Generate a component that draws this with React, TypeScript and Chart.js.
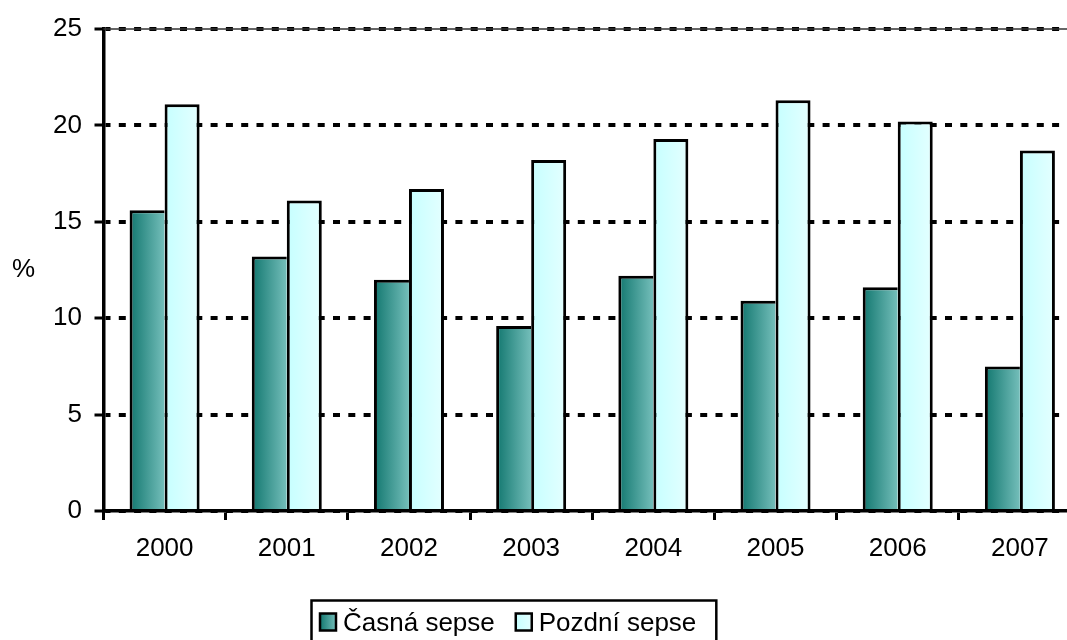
import React, { useEffect, useRef } from "react";
import { Chart, registerables } from "chart.js";

Chart.register(...registerables);

// ---------- data ----------
const years = ["2000", "2001", "2002", "2003", "2004", "2005", "2006", "2007"];
const casnaSepse = [15.6, 13.2, 12.0, 9.6, 12.2, 10.9, 11.6, 7.5];
const pozdniSepse = [21.1, 16.1, 16.7, 18.2, 19.3, 21.3, 20.2, 18.7];
const seriesLabels = ["Časná sepse", "Pozdní sepse"];
const yTickValues = [0, 5, 10, 15, 20, 25];
const yAxisTitle = "%";

// ---------- style ----------
const FONT = '"Liberation Sans", Arial, Helvetica, sans-serif';
const FONT_SIZE = 26;
const CAT_PCT = 0.573;
const BW = 3;
const gradientStops: string[][] = [
  ["#12776f", "#74beba"],
  ["#c6ffff", "#e4ffff"],
];

function barFill(ctx: any) {
  const chart = ctx.chart;
  const stops = gradientStops[ctx.datasetIndex] || gradientStops[0];
  const xs = chart.scales && chart.scales.x;
  if (!xs || ctx.dataIndex === undefined || !isFinite(xs.left)) return stops[0];
  const n = chart.data.labels.length;
  const cw = (xs.right - xs.left) / n;
  const center = xs.getPixelForValue(ctx.dataIndex);
  const bw = (cw * CAT_PCT) / 2;
  const left = center - bw + ctx.datasetIndex * bw;
  if (!isFinite(left)) return stops[0];
  const g = chart.ctx.createLinearGradient(left, 0, left + bw, 0);
  g.addColorStop(0, stops[0]);
  g.addColorStop(1, stops[1]);
  return g;
}

const decorPlugin = {
  id: "decor",
  beforeDatasetsDraw(chart: any) {
    const { ctx, chartArea } = chart;
    ctx.save();
    ctx.strokeStyle = "#333";
    ctx.lineWidth = 1.5;
    ctx.beginPath();
    ctx.moveTo(chartArea.left, chartArea.top);
    ctx.lineTo(chartArea.right, chartArea.top);
    ctx.stroke();
    ctx.restore();
  },
  afterDraw(chart: any) {
    const { ctx } = chart;
    ctx.save();
    ctx.font = `${FONT_SIZE}px ${FONT}`;
    ctx.fillStyle = "#000";
    // y-axis title (horizontal)
    ctx.textAlign = "left";
    ctx.textBaseline = "middle";
    ctx.fillText(yAxisTitle, 12, 270);

    // legend
    const boxX = 311.5;
    const boxY = 600.5;
    let x = 320;
    const mkY = 613.5;
    const mkW = 16;
    const mkH = 17;
    ctx.textBaseline = "alphabetic";
    let endX = x;
    chart.data.datasets.forEach((ds: any, i: number) => {
      const stops = gradientStops[i];
      const g = ctx.createLinearGradient(x, 0, x + mkW, 0);
      g.addColorStop(0, stops[0]);
      g.addColorStop(1, stops[1]);
      ctx.fillStyle = g;
      ctx.fillRect(x, mkY, mkW, mkH);
      ctx.strokeStyle = "#000";
      ctx.lineWidth = 2.5;
      ctx.strokeRect(x, mkY, mkW, mkH);
      ctx.fillStyle = "#000";
      const tx = x + mkW + 7;
      ctx.fillText(ds.label, tx, 631);
      const w = ctx.measureText(ds.label).width;
      endX = tx + w;
      x = endX + 21;
    });
    ctx.strokeStyle = "#000";
    ctx.lineWidth = 2.5;
    ctx.strokeRect(boxX, boxY, endX + 20 - boxX, 60);
    ctx.restore();
  },
};

export default function App() {
  const canvasRef = useRef<HTMLCanvasElement | null>(null);

  useEffect(() => {
    const canvas = canvasRef.current;
    if (!canvas) return;
    const chart = new Chart(canvas, {
      type: "bar",
      data: {
        labels: years,
        datasets: [
          {
            label: seriesLabels[0],
            data: casnaSepse,
            backgroundColor: barFill,
            borderColor: "#000",
            borderWidth: (ctx: any) => {
              const i = ctx.dataIndex;
              if (i === undefined) return BW;
              return { top: BW, left: BW, right: casnaSepse[i] > pozdniSepse[i] ? BW : 0, bottom: 0 };
            },
            categoryPercentage: CAT_PCT,
            barPercentage: 1,
          } as any,
          {
            label: seriesLabels[1],
            data: pozdniSepse,
            backgroundColor: barFill,
            borderColor: "#000",
            borderWidth: (ctx: any) => {
              const i = ctx.dataIndex;
              if (i === undefined) return BW;
              return { top: BW, right: BW, left: pozdniSepse[i] >= casnaSepse[i] ? BW : 0, bottom: 0 };
            },
            categoryPercentage: CAT_PCT,
            barPercentage: 1,
          } as any,
        ],
      },
      options: {
        animation: false,
        responsive: false,
        devicePixelRatio: 1,
        layout: { padding: { top: 29, bottom: 62, left: 0, right: 9 } },
        plugins: {
          legend: { display: false },
          tooltip: { enabled: false },
        },
        scales: {
          x: {
            type: "category",
            offset: true,
            grid: {
              display: true,
              drawOnChartArea: false,
              drawTicks: true,
              tickLength: 9,
              tickWidth: 3,
              tickColor: "#000",
              color: "#000",
              offset: true,
              tickBorderDash: [],
            },
            border: { display: true, color: "#000", width: 3.5 },
            ticks: {
              color: "#000",
              font: { family: FONT, size: FONT_SIZE },
              padding: 13,
              maxRotation: 0,
              autoSkip: false,
            },
            afterFit: (s: any) => {
              s.height = 67;
            },
          },
          y: {
            min: 0,
            max: 25,
            afterBuildTicks: (s: any) => {
              s.ticks = yTickValues.map((v) => ({ value: v }));
            },
            grid: {
              color: "#000",
              lineWidth: 4,
              drawTicks: true,
              tickLength: 9,
              tickWidth: 3,
              tickColor: "#000",
              tickBorderDash: [],
            },
            border: { display: true, color: "#000", width: 3.5, dash: [7, 8.3], dashOffset: 2 },
            ticks: {
              color: "#000",
              font: { family: FONT, size: FONT_SIZE },
              padding: 12.5,
            },
            afterFit: (s: any) => {
              s.width = 103.5;
            },
          },
        },
      } as any,
      plugins: [decorPlugin],
    });
    return () => chart.destroy();
  }, []);

  return (
    <div
      style={{
        position: "fixed",
        left: 0,
        top: 0,
        width: 1067,
        height: 640,
        overflow: "hidden",
        background: "#fff",
      }}
    >
      <canvas ref={canvasRef} width={1090} height={640} style={{ display: "block" }} />
    </div>
  );
}
